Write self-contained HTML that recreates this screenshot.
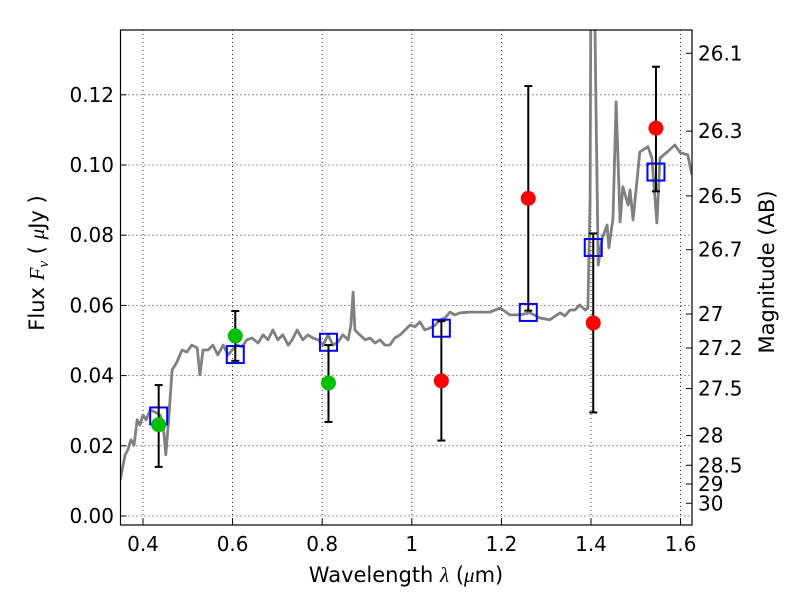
<!DOCTYPE html>
<html><head><meta charset="utf-8"><style>
body{margin:0;background:#fff;}
svg{display:block;font-family:"DejaVu Sans","Liberation Sans",sans-serif;}
</style></head><body>
<svg id="chart" width="800" height="600" viewBox="0 0 800 600">
<defs><clipPath id="clip"><rect x="120.5" y="30" width="571.5" height="495"/></clipPath></defs>
<rect x="0" y="0" width="800" height="600" fill="#fff"/>
<g id="grid"></g>
<g id="spec" clip-path="url(#clip)"></g>
<g id="marks" clip-path="url(#clip)"></g>
<rect x="120.5" y="30" width="571.5" height="495" fill="none" stroke="#000" stroke-width="1.2"/>
<g id="axes"></g>
<text x="406" y="582" font-size="21" text-anchor="middle">Wavelength  <tspan font-family="Liberation Serif" font-style="italic">λ</tspan> (<tspan font-family="Liberation Serif" font-style="italic">μ</tspan>m)</text>
<text transform="translate(44,263) rotate(-90)" font-size="21" text-anchor="middle">Flux  <tspan font-family="Liberation Serif" font-style="italic">F<tspan font-size="15" dy="4">ν</tspan></tspan><tspan dy="-4">  (  </tspan><tspan font-family="Liberation Serif" font-style="italic">μ</tspan>Jy )</text>
<text transform="translate(774,272) rotate(-90)" font-size="21" text-anchor="middle">Magnitude (AB)</text>
</svg>
<script>
const xTicks=[0.4,0.6,0.8,1.0,1.2,1.4,1.6];
const xTickLabels=["0.4","0.6","0.8","1","1.2","1.4","1.6"];
const yTicks=[0,0.02,0.04,0.06,0.08,0.1,0.12];
const yTickLabels=["0.00","0.02","0.04","0.06","0.08","0.10","0.12"];
const magTicks=[26.1,26.3,26.5,26.7,27,27.2,27.5,28,28.5,29,30];
const magTickLabels=["26.1","26.3","26.5","26.7","27","27.2","27.5","28","28.5","29","30"];
const specWave=[0.349,0.360,0.366,0.373,0.380,0.387,0.393,0.400,0.407,0.416,0.427,0.438,0.445,0.451,0.458,0.465,0.476,0.487,0.498,0.509,0.521,0.527,0.534,0.545,0.556,0.567,0.579,0.590,0.599,0.610,0.621,0.632,0.643,0.657,0.668,0.679,0.690,0.701,0.712,0.724,0.733,0.744,0.757,0.768,0.779,0.791,0.802,0.813,0.824,0.835,0.846,0.858,0.864,0.869,0.873,0.884,0.896,0.907,0.918,0.929,0.940,0.951,0.962,0.974,0.985,0.996,1.007,1.018,1.029,1.041,1.052,1.063,1.074,1.085,1.096,1.108,1.130,1.152,1.175,1.197,1.219,1.241,1.264,1.286,1.308,1.331,1.342,1.353,1.364,1.375,1.387,1.393,1.398,1.400,1.407,1.411,1.416,1.425,1.436,1.440,1.449,1.456,1.465,1.471,1.483,1.487,1.494,1.509,1.527,1.536,1.547,1.554,1.570,1.587,1.599,1.616,1.625];
const specFlux=[0.0103,0.0174,0.0188,0.0217,0.0202,0.0274,0.0259,0.0288,0.0274,0.0302,0.0296,0.0288,0.0259,0.0174,0.0288,0.0416,0.0439,0.0473,0.0467,0.0487,0.0479,0.0402,0.0473,0.0473,0.0487,0.0459,0.0487,0.0459,0.0473,0.0487,0.0482,0.0502,0.0507,0.0493,0.0516,0.0502,0.0530,0.0502,0.0516,0.0487,0.0502,0.0530,0.0502,0.0516,0.0507,0.0502,0.0487,0.0516,0.0487,0.0496,0.0516,0.0502,0.0544,0.0638,0.0530,0.0516,0.0502,0.0507,0.0493,0.0502,0.0487,0.0487,0.0507,0.0516,0.0530,0.0544,0.0539,0.0553,0.0530,0.0536,0.0544,0.0559,0.0564,0.0581,0.0573,0.0579,0.0581,0.0581,0.0581,0.0593,0.0573,0.0573,0.0579,0.0564,0.0559,0.0579,0.0570,0.0587,0.0587,0.0601,0.0587,0.0593,0.0901,0.16,0.16,0.1186,0.0715,0.0792,0.0829,0.0764,0.0849,0.1180,0.0838,0.0938,0.0886,0.0929,0.0844,0.1037,0.1052,0.1020,0.0835,0.1020,0.1037,0.1057,0.1035,0.1029,0.0972];
const greenWave=[0.435,0.606,0.814];
const greenFlux=[0.026,0.0513,0.0379];
const greenLo=[0.014,0.0442,0.0268];
const greenHi=[0.0373,0.0584,0.0487];
const redWave=[1.066,1.26,1.405,1.545];
const redFlux=[0.0385,0.0905,0.055,0.1105];
const redLo=[0.0215,0.0585,0.0295,0.0925];
const redHi=[0.0555,0.1225,0.0805,0.128];
const boxWave=[0.435,0.606,0.814,1.066,1.26,1.405,1.545];
const boxFlux=[0.0285,0.046,0.0495,0.0535,0.058,0.0765,0.098];

const NS="http://www.w3.org/2000/svg";
const X=v=>143+(v-0.4)*448;
const Y=v=>516-v*3510;
function mk(tag,attrs,parent){const e=document.createElementNS(NS,tag);for(const k in attrs)e.setAttribute(k,attrs[k]);parent.appendChild(e);return e;}
const grid=document.getElementById('grid'),axes=document.getElementById('axes'),spec=document.getElementById('spec'),marks=document.getElementById('marks');
xTicks.forEach((t,i)=>{
 const gl=mk('line',{x1:X(t),x2:X(t),y1:30,y2:525,stroke:'#000','stroke-width':0.8,'stroke-dasharray':'1,3'},grid);
 
 const tk=mk('line',{x1:X(t),x2:X(t),y1:525,y2:519,stroke:'#000'},axes);
 
 const tx=mk('text',{x:X(t),y:551,'font-size':20,'text-anchor':'middle'},axes);tx.textContent=xTickLabels[i];
 
});
yTicks.forEach((t,i)=>{
 const gl=mk('line',{x1:120.5,x2:692,y1:Y(t),y2:Y(t),stroke:'#000','stroke-width':0.8,'stroke-dasharray':'1,3'},grid);
 
 const tk=mk('line',{x1:120.5,x2:126.5,y1:Y(t),y2:Y(t),stroke:'#000'},axes);
 
 const tx=mk('text',{x:114,y:Y(t)+7,'font-size':20,'text-anchor':'end'},axes);tx.textContent=yTickLabels[i];
 
});
magTicks.forEach((m,i)=>{
 const f=Math.pow(10,(23.9-m)/2.5);const y=Y(f);
 const tk=mk('line',{x1:686,x2:692,y1:y,y2:y,stroke:'#000'},axes);
 
 const tx=mk('text',{x:698,y:y+7,'font-size':20},axes);tx.textContent=magTickLabels[i];
 
});
const pts=specWave.map((w,i)=>X(w).toFixed(1)+','+Y(specFlux[i]).toFixed(1)).join(' ');
const pl=mk('polyline',{points:pts,fill:'none',stroke:'#808080','stroke-width':2.8,'stroke-linejoin':'round'},spec);

function errbar(w,lo,hi){
 const g=mk('g',{stroke:'#000','stroke-width':2},marks);
 
 mk('line',{x1:X(w),x2:X(w),y1:Y(lo),y2:Y(hi)},g);
 mk('line',{x1:X(w)-4,x2:X(w)+4,y1:Y(lo),y2:Y(lo)},g);
 mk('line',{x1:X(w)-4,x2:X(w)+4,y1:Y(hi),y2:Y(hi)},g);
}
boxWave.forEach((w,i)=>{
 const r=mk('rect',{x:X(w)-8.5,y:Y(boxFlux[i])-8.5,width:17,height:17,fill:'none',stroke:'#0000ff','stroke-width':2},marks);
 
});
greenWave.forEach((w,i)=>{
 errbar(w,greenLo[i],greenHi[i]);
 const c=mk('circle',{cx:X(w),cy:Y(greenFlux[i]),r:7.5,fill:'#00c000'},marks);
 
});
redWave.forEach((w,i)=>{
 errbar(w,redLo[i],redHi[i]);
 const c=mk('circle',{cx:X(w),cy:Y(redFlux[i]),r:7.5,fill:'#ff0000'},marks);
 
});
</script>
</body></html>
